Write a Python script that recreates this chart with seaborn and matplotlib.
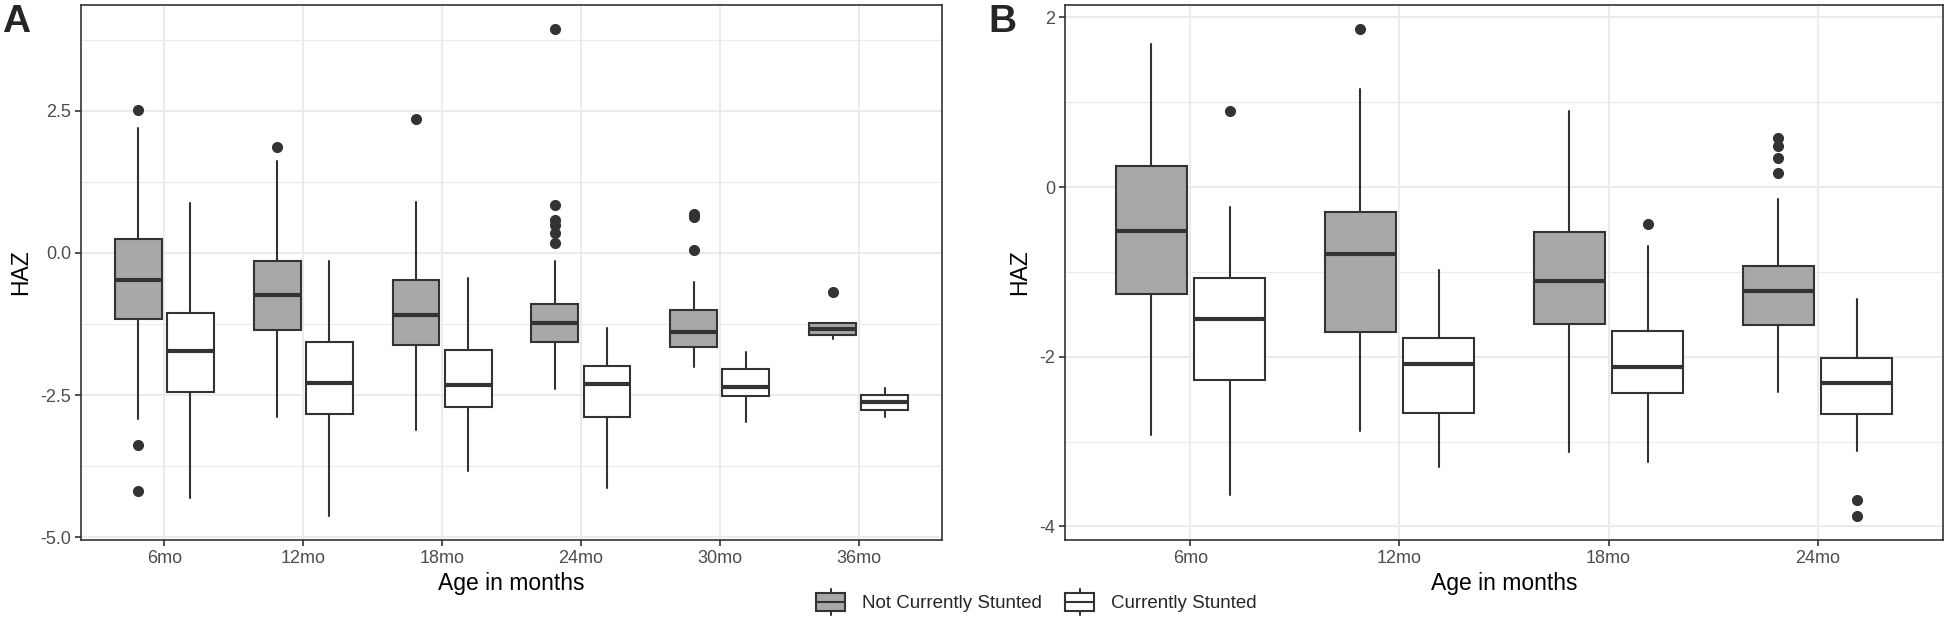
import numpy as np
import matplotlib
matplotlib.use("Agg")
import matplotlib.pyplot as plt
import seaborn as sns
from matplotlib.legend_handler import HandlerBase
from matplotlib.patches import Rectangle, Patch
from matplotlib.lines import Line2D

# ---- panel A : 6 ages ----
ages_a = ['6mo', '12mo', '18mo', '24mo', '30mo', '36mo']
a_not_lo = [-2.92, -2.88, -3.12, -2.40, -2.00, -1.51]
a_not_q1 = [-1.16, -1.36, -1.62, -1.57, -1.65, -1.45]
a_not_med = [-0.48, -0.74, -1.09, -1.23, -1.40, -1.33]
a_not_q3 = [0.25, -0.14, -0.48, -0.90, -1.01, -1.24]
a_not_hi = [2.20, 1.62, 0.89, -0.14, -0.51, -1.24]
a_not_out = [[2.51, -3.38, -4.19], [1.86], [2.36],
             [3.93, 0.85, 0.585, 0.485, 0.347, 0.17], [0.69, 0.63, 0.045], [-0.69]]

a_st_lo = [-4.32, -4.62, -3.84, -4.13, -2.98, -2.88]
a_st_q1 = [-2.455, -2.83, -2.71, -2.89, -2.51, -2.76]
a_st_med = [-1.73, -2.29, -2.32, -2.31, -2.36, -2.63]
a_st_q3 = [-1.055, -1.575, -1.70, -1.99, -2.035, -2.506]
a_st_hi = [0.88, -0.15, -0.445, -1.325, -1.745, -2.385]
a_st_out = [[], [], [], [], [], []]

# ---- panel B : 4 ages ----
ages_b = ['6mo', '12mo', '18mo', '24mo']
b_not_lo = [-2.92, -2.88, -3.12, -2.41]
b_not_q1 = [-1.26, -1.71, -1.62, -1.63]
b_not_med = [-0.52, -0.79, -1.11, -1.23]
b_not_q3 = [0.25, -0.29, -0.53, -0.93]
b_not_hi = [1.69, 1.15, 0.90, -0.14]
b_not_out = [[], [1.86], [], [0.58, 0.48, 0.34, 0.17]]

b_st_lo = [-3.63, -3.30, -3.24, -3.11]
b_st_q1 = [-2.28, -2.66, -2.43, -2.68]
b_st_med = [-1.56, -2.09, -2.12, -2.31]
b_st_q3 = [-1.07, -1.78, -1.70, -2.01]
b_st_hi = [-0.23, -0.98, -0.70, -1.32]
b_st_out = [[0.89], [], [-0.44], [-3.69, -3.88]]

groups = ['Not Currently Stunted', 'Currently Stunted']
fills = ['#A8A8A8', 'white']
edge = '#333333'

sns.set_theme(style="whitegrid")
plt.rcParams['font.family'] = ['Liberation Sans', 'DejaVu Sans']


def make_stats(lo, q1, med, q3, hi, out):
    return [dict(whislo=lo[i], q1=q1[i], med=med[i], q3=q3[i], whishi=hi[i],
                 fliers=out[i]) for i in range(len(med))]


def draw_panel(ax, ages, not_stats, st_stats, major, minor):
    pos = np.arange(1, len(ages) + 1)
    for k, (stats, off) in enumerate([(not_stats, -0.1875), (st_stats, 0.1875)]):
        ax.bxp(stats, positions=pos + off, widths=0.3375, patch_artist=True,
               showcaps=False,
               boxprops=dict(facecolor=fills[k], edgecolor=edge, linewidth=1.5),
               whiskerprops=dict(color=edge, linewidth=1.5),
               medianprops=dict(color=edge, linewidth=3),
               flierprops=dict(marker='o', markerfacecolor=edge, markeredgecolor=edge,
                               markersize=7, linestyle='none'),
               manage_ticks=False)
    ax.set_xlim(0.4, len(ages) + 0.6)
    ax.set_xticks(pos)
    ax.set_xticklabels(ages)
    ax.set_yticks(major)
    ax.set_yticks(minor, minor=True)
    ax.grid(True, which='major', color='#EBEBEB', linewidth=1.4)
    ax.grid(True, which='minor', axis='y', color='#EBEBEB', linewidth=0.9)
    ax.set_axisbelow(True)
    ax.tick_params(which='major', length=4, width=1.2, color='#333333',
                   labelsize=13, labelcolor='#4D4D4D', pad=3,
                   bottom=True, left=True)
    ax.tick_params(which='minor', length=0)
    for s in ax.spines.values():
        s.set_color('#333333')
        s.set_linewidth(1.2)
    ax.set_facecolor('white')
    ax.set_xlabel('Age in months', fontsize=16.5, color='black', labelpad=4)
    ax.set_ylabel('HAZ', fontsize=16.5, color='black', labelpad=6)


fig = plt.figure(figsize=(19.46, 6.2), dpi=100)
ax_a = fig.add_axes([81 / 1946, 1 - 540 / 620, 861 / 1946, 535 / 620])
ax_b = fig.add_axes([1065 / 1946, 1 - 540 / 620, 878 / 1946, 535 / 620])

draw_panel(ax_a, ages_a,
           make_stats(a_not_lo, a_not_q1, a_not_med, a_not_q3, a_not_hi, a_not_out),
           make_stats(a_st_lo, a_st_q1, a_st_med, a_st_q3, a_st_hi, a_st_out),
           [-5.0, -2.5, 0.0, 2.5], [-3.75, -1.25, 1.25, 3.75])
ax_a.set_yticklabels(['-5.0', '-2.5', '0.0', '2.5'])
ax_a.set_ylim(-5.05, 4.36)

draw_panel(ax_b, ages_b,
           make_stats(b_not_lo, b_not_q1, b_not_med, b_not_q3, b_not_hi, b_not_out),
           make_stats(b_st_lo, b_st_q1, b_st_med, b_st_q3, b_st_hi, b_st_out),
           [-4, -2, 0, 2], [-3, -1, 1])
ax_b.set_yticklabels(['-4', '-2', '0', '2'])
ax_b.set_ylim(-4.16, 2.145)

fig.text(2 / 1946, 1 - 4 / 620, 'A', fontsize=28, fontweight='bold', va='top', ha='left')
fig.text(988 / 1946, 1 - 4 / 620, 'B', fontsize=28, fontweight='bold', va='top', ha='left')


class BoxKey(HandlerBase):
    # legend key drawn as a small boxplot glyph, like ggplot's
    def create_artists(self, legend, orig_handle, xdescent, ydescent, width, height,
                       fontsize, trans):
        x0, y0 = -xdescent, -ydescent
        xc = x0 + width / 2
        wl = Line2D([xc, xc], [y0 - 0.15 * height, y0 + 1.15 * height],
                    color=edge, lw=1.5, transform=trans)
        box = Rectangle((x0, y0 + 0.05 * height), width, 0.9 * height,
                        facecolor=orig_handle.get_facecolor(), edgecolor=edge,
                        lw=1.5, transform=trans)
        ml = Line2D([x0, x0 + width], [y0 + height / 2] * 2, color=edge, lw=1.5,
                    transform=trans)
        return [wl, box, ml]


handles = [Patch(facecolor=fills[i], edgecolor=edge, label=groups[i]) for i in range(2)]
fig.legend(handles=handles, labels=groups, handler_map={Patch: BoxKey()},
           loc='center', bbox_to_anchor=(1036.5 / 1946, 1 - 602 / 620), ncol=2,
           frameon=False, fontsize=13.5, handlelength=1.55, handleheight=1.25,
           handletextpad=0.9, columnspacing=1.25, borderpad=0)

fig.savefig('out.png', dpi=100, facecolor='white')
